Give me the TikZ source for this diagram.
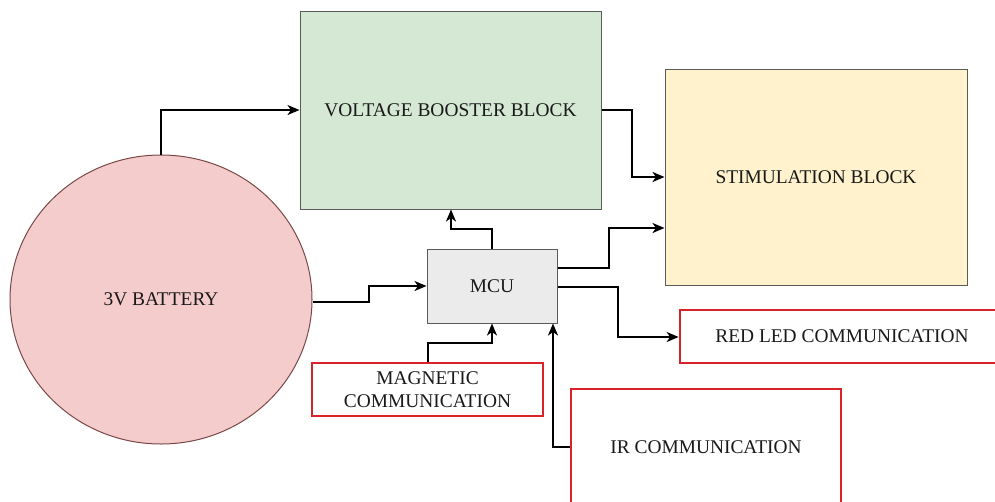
\documentclass[tikz,border=0pt]{standalone}
\usepackage{fontspec}
\setmainfont{Liberation Serif}
\usetikzlibrary{shapes.geometric,arrows.meta}
\definecolor{boostfill}{HTML}{D5E8D4}
\definecolor{stimfill}{HTML}{FFF2CC}
\definecolor{batfill}{HTML}{F4CCCC}
\definecolor{mcufill}{HTML}{EBEBEB}
\definecolor{boxline}{HTML}{5A5A5A}
\definecolor{redline}{HTML}{D8232A}
\tikzset{
  lbl/.style={font=\fontsize{19.4}{22.5}\selectfont, text=black!90, align=center, inner sep=0pt},
  block/.style={lbl, draw=boxline, line width=1pt, rectangle},
  redbox/.style={lbl, draw=redline, line width=2.7pt, rectangle, fill=white},
  conn/.style={draw=black, line width=2.5pt, -{Stealth[length=12pt,width=10pt,inset=3.5pt]}},
}
\begin{document}
\begin{tikzpicture}[x=1pt,y=-1pt]
\clip (0,0) rectangle (995,501);
\fill[white] (0,0) rectangle (995,501);
\node[block, fill=boostfill, minimum width=301pt, minimum height=198pt] (boost) at (450.5,110) {VOLTAGE BOOSTER BLOCK};
\node[block, fill=stimfill, minimum width=302pt, minimum height=216pt] (stim) at (816,177) {STIMULATION BLOCK};
\node[lbl, draw=boxline!80!red, line width=1pt, ellipse, fill=batfill, minimum width=302pt, minimum height=289pt] (bat) at (161,299.5) {3V BATTERY};
\node[block, fill=mcufill, minimum width=130pt, minimum height=74pt] (mcu) at (492,286) {MCU};
\node[redbox, minimum width=324pt, minimum height=53pt] (led) at (842,336.5) {RED LED COMMUNICATION};
\node[redbox, minimum width=231pt, minimum height=53pt] (mag) at (427.5,389.5) {MAGNETIC\\COMMUNICATION};
\node[redbox, minimum width=270pt, minimum height=116pt] (ir) at (706,447) {IR COMMUNICATION};

\coordinate (c1) at (161,110);
\draw[conn] (bat.north) -- (c1) -- (boost.west |- c1);
\draw[conn] (boost.east |- 0,110) -| (632,177) -- (stim.west |- 0,177);
\draw[conn] (mcu.north) -- (492,229) -| (boost.south -| 451,0);
\draw[conn] (bat.east |- 0,302) -| (369,286) -- (mcu.west |- 0,286);
\draw[conn] (mcu.east |- 0,268) -| (609,228) -- (stim.west |- 0,228);
\draw[conn] (mcu.east |- 0,287) -| (618,337) -- (led.west |- 0,337);
\draw[conn] (mag.north -| 428,0) -- (428,343) -| (mcu.south -| 492,0);
\draw[conn] (ir.west |- 0,447) -| (mcu.south -| 553,0);
\end{tikzpicture}
\end{document}
